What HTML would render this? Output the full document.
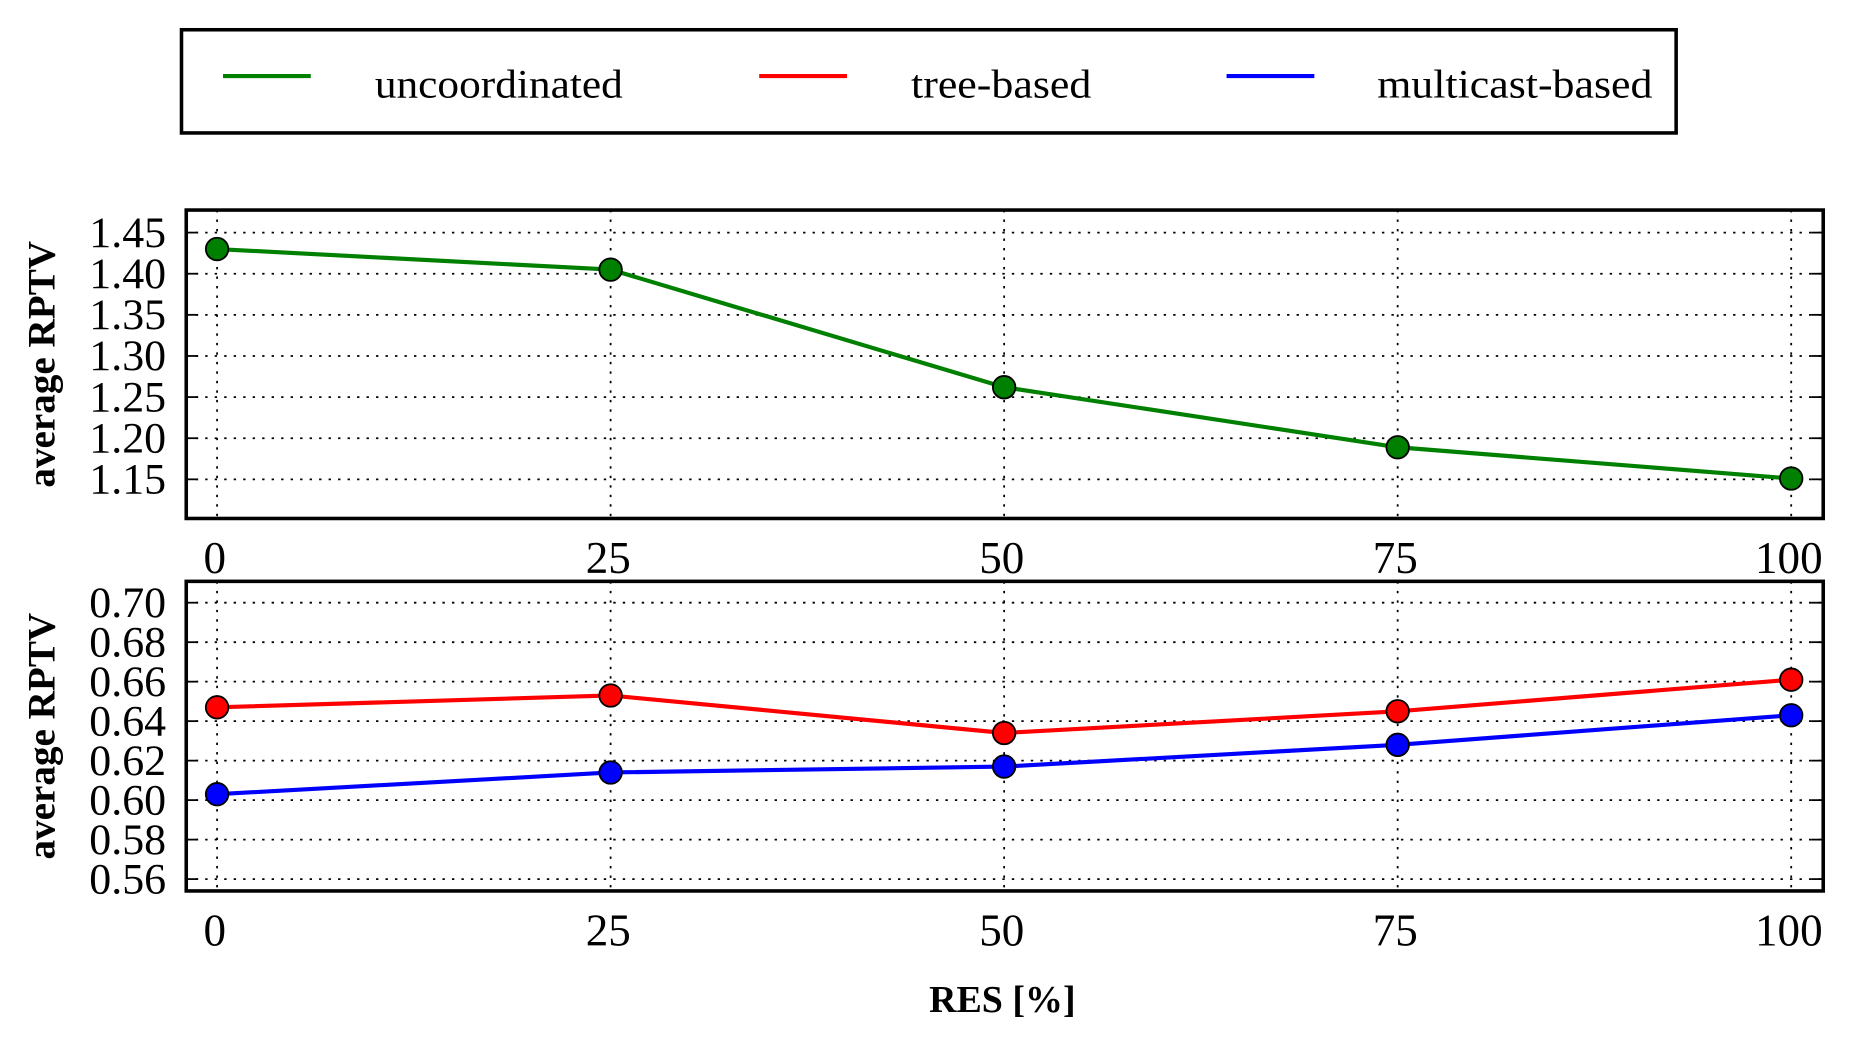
<!DOCTYPE html>
<html><head><meta charset="utf-8"><style>
html,body{margin:0;padding:0;background:#fff;}
svg{display:block;font-family:"Liberation Serif",serif;}
</style></head><body>
<svg id="chart" width="1860" height="1050" viewBox="0 0 1568 885" xmlns="http://www.w3.org/2000/svg">
<g>
<rect x="153" y="25" width="1260" height="87" fill="#fff" stroke="#000" stroke-width="3"/>
<line x1="188" y1="64" x2="262" y2="64" stroke="#008000" stroke-width="3.5"/>
<text x="316" y="82" font-size="34" textLength="209" lengthAdjust="spacingAndGlyphs">uncoordinated</text>
<line x1="640" y1="64" x2="714" y2="64" stroke="#ff0000" stroke-width="3.5"/>
<text x="768" y="82" font-size="34" textLength="152" lengthAdjust="spacingAndGlyphs">tree-based</text>
<line x1="1034" y1="64" x2="1108" y2="64" stroke="#0000ff" stroke-width="3.5"/>
<text x="1161" y="82" font-size="34" textLength="232" lengthAdjust="spacingAndGlyphs">multicast-based</text>
</g>
<g id="plots"></g>
<text x="845" y="853" font-size="32" text-anchor="middle" font-weight="bold">RES [%]</text>
</svg>
<script>
const categories = [0, 25, 50, 75, 100];
const uncoordinated = [1.430, 1.405, 1.262, 1.189, 1.151];
const treeBased = [0.647, 0.653, 0.634, 0.645, 0.661];
const multicastBased = [0.603, 0.614, 0.617, 0.628, 0.643];
const topTicks = [1.15, 1.20, 1.25, 1.30, 1.35, 1.40, 1.45];
const bottomTicks = [0.56, 0.58, 0.60, 0.62, 0.64, 0.66, 0.68, 0.70];

const NS = "http://www.w3.org/2000/svg";
const root = document.getElementById('plots');
function mk(tag, attrs, parent){const e=document.createElementNS(NS,tag);for(const k in attrs)e.setAttribute(k,attrs[k]);(parent||root).appendChild(e);return e;}
const xScale = v => 183 + (v - 0) / 100 * (1510 - 183);

function panel(name, box, yv0, yp0, yv1, yp1, ticks, decimals, series){
  const g = mk('g', {});
  
  
  const y = v => yp0 + (v - yv0) / (yv1 - yv0) * (yp1 - yp0);
  ticks.forEach(t => {
    const l = mk('line', {x1:box.x0, x2:box.x1, y1:y(t), y2:y(t), stroke:'#000', 'stroke-width':1.5, 'stroke-dasharray':'2,6'}, g);
    
    
    const tk = mk('line', {x1:box.x0, x2:box.x0+10, y1:y(t), y2:y(t), stroke:'#000', 'stroke-width':1.5}, g);
    
    
    const tk2 = mk('line', {x1:box.x1-10, x2:box.x1, y1:y(t), y2:y(t), stroke:'#000', 'stroke-width':1.5}, g);
    
    
    const tx = mk('text', {x:140, y:y(t)+12, 'font-size':37, 'text-anchor':'end'}, g);
    
    
    tx.textContent = t.toFixed(decimals);
  });
  categories.forEach(c => {
    const l = mk('line', {x1:xScale(c), x2:xScale(c), y1:box.y0, y2:box.y1, stroke:'#000', 'stroke-width':1.5, 'stroke-dasharray':'2,6'}, g);
    
    
    const tx = mk('text', {x:xScale(c) - 2, y:box.y1+46, 'font-size':38, 'text-anchor':'middle'}, g);
    
    
    tx.textContent = c;
  });
  series.forEach(s => {
    const pts = s.values.map((v,i) => xScale(categories[i]) + ',' + y(v)).join(' ');
    const pl = mk('polyline', {points:pts, fill:'none', stroke:s.color, 'stroke-width':3.5}, g);
    
    
    s.values.forEach((v,i) => {
      const c = mk('circle', {cx:xScale(categories[i]), cy:y(v), r:9.5, fill:s.color, stroke:'#000', 'stroke-width':1.5}, g);
      
      
    });
  });
  const r = mk('rect', {x:box.x0, y:box.y0, width:box.x1-box.x0, height:box.y1-box.y0, fill:'none', stroke:'#000', 'stroke-width':3}, g);
  
  
  const yl = mk('text', {x:0, y:0, 'font-size':33, 'font-weight':'bold', 'text-anchor':'middle', transform:'translate(46,'+((box.y0+box.y1)/2)+') rotate(-90)'}, g);
  
  
  yl.textContent = 'average RPTV';
}
panel('top-panel', {x0:157, x1:1537, y0:177, y1:437}, 1.45, 196, 1.15, 404, topTicks, 2,
  [{name:'uncoordinated', color:'#008000', values:uncoordinated}]);
panel('bottom-panel', {x0:157, x1:1537, y0:490, y1:751}, 0.70, 508, 0.56, 741, bottomTicks, 2,
  [{name:'tree-based', color:'#ff0000', values:treeBased},{name:'multicast-based', color:'#0000ff', values:multicastBased}]);
</script>
</body></html>
